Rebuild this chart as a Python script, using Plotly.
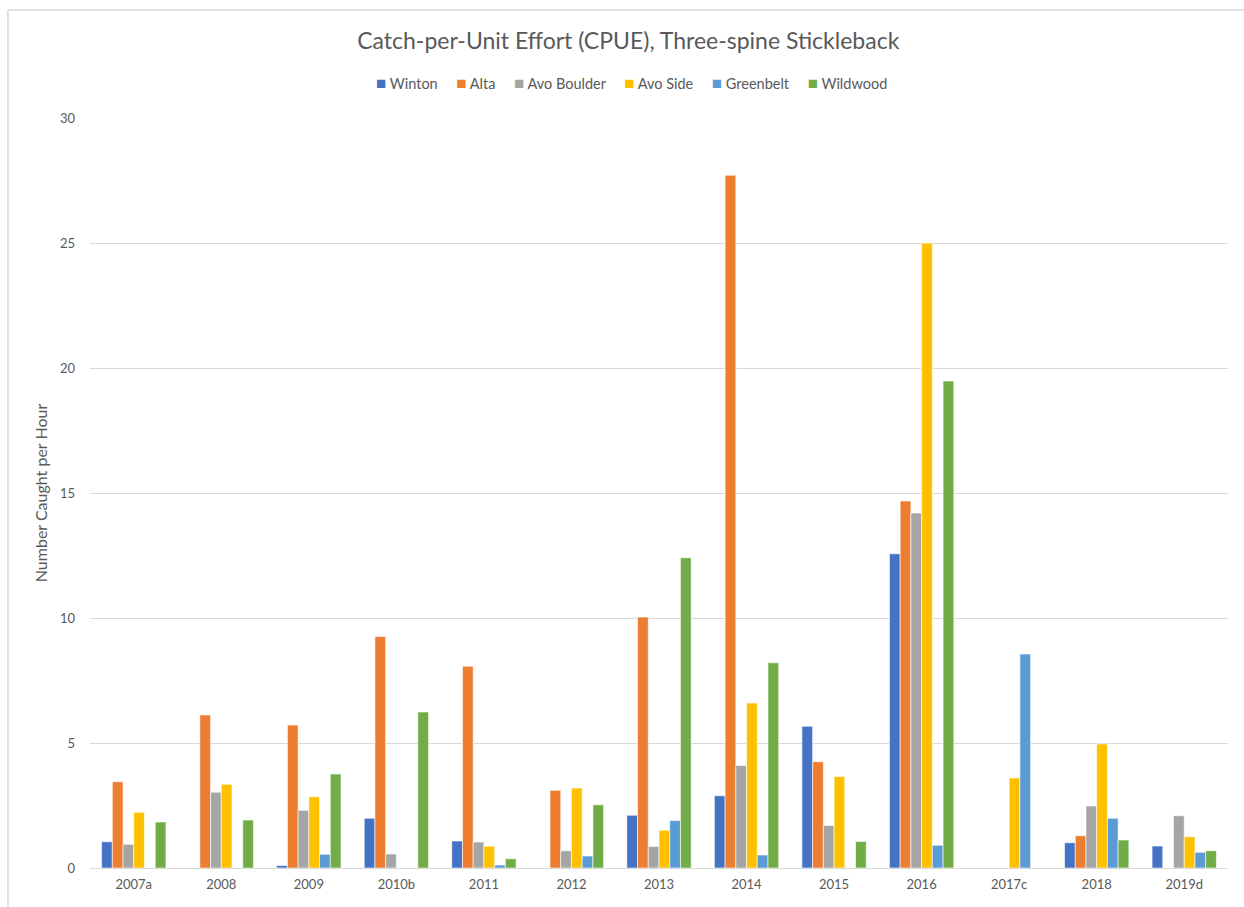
import plotly.graph_objects as go

# Sampling years (letters mark footnoted years)
years = ["2007a", "2008", "2009", "2010b", "2011", "2012", "2013",
         "2014", "2015", "2016", "2017c", "2018", "2019d"]

# Catch-per-unit effort (fish caught per hour) by site
winton = [1.05, 0, 0.10, 1.99, 1.08, 0, 2.11, 2.89, 5.67, 12.57, 0, 1.01, 0.88]
alta = [3.45, 6.12, 5.72, 9.26, 8.07, 3.11, 10.04, 27.71, 4.25, 14.68, 0, 1.29, 0]
avo_boulder = [0.95, 3.03, 2.31, 0.56, 1.04, 0.69, 0.86, 4.10, 1.70, 14.20, 0, 2.48, 2.09]
avo_side = [2.23, 3.35, 2.85, 0, 0.87, 3.20, 1.51, 6.60, 3.66, 25.0, 3.60, 4.96, 1.25]
greenbelt = [0, 0, 0.55, 0, 0.12, 0.48, 1.90, 0.52, 0, 0.91, 8.56, 1.99, 0.63]
wildwood = [1.84, 1.92, 3.76, 6.24, 0.37, 2.53, 12.41, 8.21, 1.06, 19.48, 0, 1.12, 0.69]

series = [
    ("Winton", winton, "#4472C4"),
    ("Alta", alta, "#ED7D31"),
    ("Avo Boulder", avo_boulder, "#A5A5A5"),
    ("Avo Side", avo_side, "#FFC000"),
    ("Greenbelt", greenbelt, "#5B9BD5"),
    ("Wildwood", wildwood, "#70AD47"),
]

FONT = "Lato, Calibri, Carlito, sans-serif"
TEXT = "#595959"
FRAME = "#d9d9d9"

fig = go.Figure()
for name, vals, color in series:
    fig.add_trace(go.Bar(
        x=years, y=vals, name=name, showlegend=False,
        marker=dict(color=color, line=dict(color="white", width=0.6)),
    ))

# compact one-line key: coloured square followed by the site name
gap = "\u00a0" * 5
key = gap.join(
    f'<span style="color:{c};font-size:17px">■</span>\u00a0{n}'
    for n, _, c in series
)

fig.update_layout(
    width=1244, height=907,
    barmode="group", bargap=0.265, bargroupgap=0,
    paper_bgcolor="white", plot_bgcolor="white",
    margin=dict(l=90, r=16, t=118, b=39, autoexpand=False),
    font=dict(family=FONT, color=TEXT, size=13),
    title=dict(
        text="Catch-per-Unit Effort (CPUE), Three-spine Stickleback",
        x=0.473, xref="paper", xanchor="center",
        y=0.955, yref="container", yanchor="middle",
        font=dict(size=23, color=TEXT, family=FONT),
    ),
    xaxis=dict(
        showgrid=False, showline=True, linecolor=FRAME, linewidth=1,
        ticks="", tickfont=dict(size=13, color=TEXT), ticklabelstandoff=4,
    ),
    yaxis=dict(
        range=[0, 30], dtick=5, showgrid=True, gridcolor=FRAME, gridwidth=1,
        zeroline=False, showline=False, ticks="",
        tickfont=dict(size=13, color=TEXT), ticklabelstandoff=14,
        title=dict(text="Number Caught per Hour", standoff=8,
                   font=dict(size=16, color=TEXT)),
    ),
    annotations=[
        dict(text=key, xref="paper", yref="paper", x=0.4754, y=1.0467,
             xanchor="center", yanchor="middle", showarrow=False,
             font=dict(size=14.5, color=TEXT, family=FONT)),
    ],
    shapes=[
        # chart frame, left and top edges
        dict(type="line", xref="paper", yref="paper",
             x0=-0.0721, x1=-0.0721, y0=-0.06, y1=1.144,
             line=dict(color=FRAME, width=1.5)),
        dict(type="line", xref="paper", yref="paper",
             x0=-0.0721, x1=1.02, y0=1.144, y1=1.144,
             line=dict(color=FRAME, width=1.5)),
    ],
)

fig.write_html("out.html")
